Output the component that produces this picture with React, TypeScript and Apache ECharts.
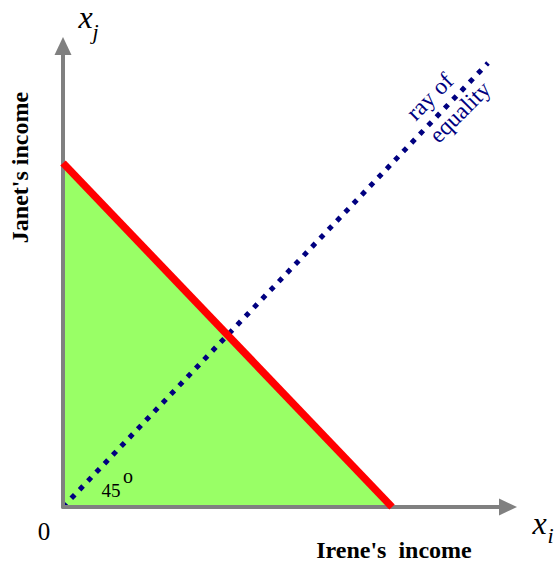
import React, { useEffect, useRef } from "react";
import * as echarts from "echarts";

// Data (arbitrary income units; axis spans 0..xMax, 0..yMax)
const xMax = 445;
const yMax = 461;
const budgetLine: [number, number][] = [
  [0, 344],
  [329, 0],
];
const equalityRay: [number, number][] = [
  [0, 0],
  [425, 444],
];
const xAxisName = "Irene's  income";
const yAxisName = "Janet's income";
const rayLabelLines = ["ray of", "equality"];
const angleLabel = "45";
const originLabel = "0";

const SERIF = "Liberation Serif";

export default function App() {
  const ref = useRef<HTMLDivElement>(null);
  useEffect(() => {
    if (!ref.current) return;
    const chart = echarts.init(ref.current, undefined, { renderer: "svg" });
    const axisLine = {
      show: true,
      symbol: ["none", "triangle"],
      symbolSize: [17, 18],
      lineStyle: { color: "#808080", width: 4 },
    };
    const txt = (x: number, y: number, text: string, extra: any = {}, rotation = 0) => ({
      type: "text",
      x,
      y,
      rotation,
      z: 10,
      style: {
        text,
        fontFamily: SERIF,
        fontSize: 20,
        fill: "#000",
        textAlign: "center",
        textVerticalAlign: "middle",
        ...extra,
      },
    });
    const rayStyle = { fontSize: 23.5, fill: "#000080", textAlign: "left" };
    chart.setOption({
      animation: false,
      grid: { left: 63, right: 46, top: 46, bottom: 55, containLabel: false },
      xAxis: {
        type: "value",
        min: 0,
        max: xMax,
        z: 2,
        axisLine,
        axisTick: { show: false },
        axisLabel: { show: false },
        splitLine: { show: false },
      },
      yAxis: {
        type: "value",
        min: 0,
        max: yMax,
        z: 2,
        axisLine,
        axisTick: { show: false },
        axisLabel: { show: false },
        splitLine: { show: false },
      },
      series: [
        {
          type: "line",
          data: budgetLine,
          symbol: "none",
          lineStyle: { width: 0, opacity: 0 },
          areaStyle: { color: "#99FF66", opacity: 1 },
          z: 1,
        },
        {
          type: "line",
          data: equalityRay,
          symbol: "none",
          lineStyle: { color: "#000080", width: 5, type: [5, 7], cap: "butt" },
          z: 1.5,
        },
        {
          type: "line",
          data: budgetLine,
          symbol: "none",
          lineStyle: { color: "#FF0000", width: 7.5 },
          z: 3,
        },
      ],
      graphic: [
        txt(85.5, 17, "x", { fontStyle: "italic", fontSize: 32 }),
        txt(95.5, 31, "j", { fontStyle: "italic", fontSize: 22 }),
        txt(539.5, 523, "x", { fontStyle: "italic", fontSize: 32 }),
        txt(550.5, 535, "i", { fontStyle: "italic", fontSize: 22 }),
        txt(44, 531, originLabel, { fontSize: 25 }),
        txt(20, 167.5, yAxisName, { fontWeight: "bold", fontSize: 24 }, Math.PI / 2),
        txt(394, 550, xAxisName, { fontWeight: "bold", fontSize: 24 }),
        txt(111, 490, angleLabel, { fontSize: 19 }),
        txt(128, 476, "o", { fontSize: 20 }),
        txt(410, 116, rayLabelLines[0], rayStyle, Math.PI / 4),
        txt(433, 138.5, rayLabelLines[1], rayStyle, Math.PI / 4),
      ],
    });
    return () => chart.dispose();
  }, []);
  return (
    <div
      ref={ref}
      style={{ position: "absolute", left: 0, top: 0, width: 554, height: 562 }}
    />
  );
}
